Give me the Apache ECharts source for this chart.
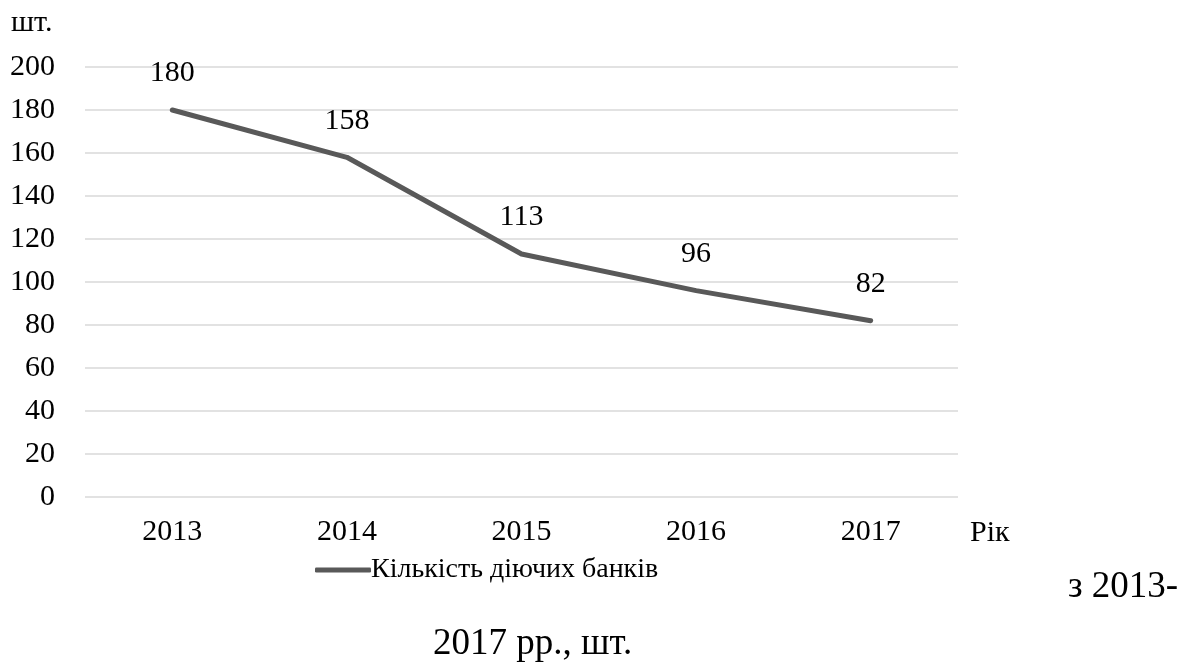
<!DOCTYPE html>
<html>
<head>
<meta charset="utf-8">
<script src="https://cdn.jsdelivr.net/npm/echarts@6/dist/echarts.min.js"></script>
<style>
	html,body{margin:0;padding:0;background:#fff;}
	#bankChart{width:1183px;height:668px;}
</style>
</head>
<body>
<div id="bankChart"></div>
<script>
var years = ['2013', '2014', '2015', '2016', '2017'];
var bankCount = [180, 158, 113, 96, 82];
var seriesName = 'Кількість діючих банків';

var fontFam = '"Liberation Serif", "Times New Roman", serif';

var charts = echarts.init(document.getElementById('bankChart'));
var option = {
	animation: false,
	textStyle: { fontFamily: fontFam },
	grid: {
		left: 85,
		right: 225,
		top: 67,
		bottom: 171
	},
	legend: {
		data: [seriesName],
		left: 310,
		top: 551,
		icon: 'roundRect',
		itemWidth: 56,
		itemHeight: 5,
		itemGap: 0,
		textStyle: { fontFamily: fontFam, fontSize: 28, color: '#000', padding: [0, 0, 0, -5] }
	},
	xAxis: {
		type: 'category',
		data: years,
		axisLine: { show: false },
		axisTick: { show: false },
		axisLabel: { fontFamily: fontFam, fontSize: 30, color: '#000', margin: 20 }
	},
	yAxis: {
		type: 'value',
		min: 0,
		max: 200,
		interval: 20,
		axisLine: { show: false },
		axisTick: { show: false },
		splitLine: { lineStyle: { color: '#d9d9d9', width: 1.5 } },
		axisLabel: { fontFamily: fontFam, fontSize: 30, color: '#000', margin: 30 }
	},
	graphic: [
		{ type: 'text', left: 11, top: 8, style: { text: 'шт.', font: '30px ' + fontFam, fill: '#000' } },
		{ type: 'text', left: 970, top: 518, style: { text: 'Рік', font: '30px ' + fontFam, fill: '#000' } },
		{ type: 'text', left: 1068, top: 569, style: { text: 'з 2013-', font: '37px ' + fontFam, fill: '#000' } },
		{ type: 'text', left: 433, top: 626, style: { text: '2017 рр., шт.', font: '37px ' + fontFam, fill: '#000' } }
	],
	series: [
		{
			name: seriesName,
			type: 'line',
			data: bankCount,
			symbol: 'circle',
			symbolSize: 1,
			color: '#595959',
			itemStyle: { color: '#595959' },
			lineStyle: { color: '#595959', width: 5, cap: 'round', join: 'round' },
			label: {
				show: true,
				position: 'top',
				distance: 21,
				fontFamily: fontFam,
				fontSize: 30,
				color: '#000'
			}
		}
	]
};
charts.setOption(option);
</script>
</body>
</html>
